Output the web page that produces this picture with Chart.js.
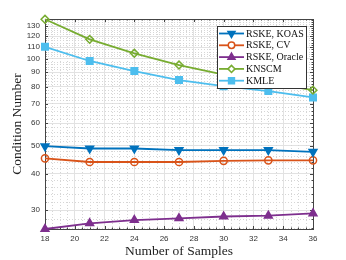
<!DOCTYPE html>
<html><head><meta charset="utf-8">
<script src="https://cdn.jsdelivr.net/npm/chart.js@4/dist/chart.umd.min.js"></script>
<style>html,body{margin:0;padding:0;background:#fff}</style>
</head><body>
<canvas id="c" width="346" height="260"></canvas>
<script>
const samples = [18, 21, 24, 27, 30, 33, 36];
const rskeKoas = [49.9, 49.0, 49.0, 48.4, 48.4, 48.4, 47.7];
const rskeCv = [45.3, 44.0, 44.0, 44.0, 44.4, 44.6, 44.6];
const rskeOracle = [25.8, 27.0, 27.7, 28.1, 28.5, 28.7, 29.2];
const knscm = [137.2, 116.9, 104.6, 95.3, 88.3, 82.8, 78.0];
const kmle = [110.2, 98.4, 90.8, 84.5, 80.5, 77.4, 73.6];
const seriesNames = ['RSKE, KOAS', 'RSKE, CV', 'RSKE, Oracle', 'KNSCM', 'KMLE'];
const xTicks = [18, 20, 22, 24, 26, 28, 30, 32, 34, 36];
const yTicks = [30, 40, 50, 60, 70, 80, 90, 100, 110, 120, 130];

const colors = ['#0072BD', '#D95319', '#7E2F8E', '#77AC30', '#4DBEEE'];
const styles = [
  {pointStyle: 'triangle', rotation: 180, radius: 4.5, fill: true},
  {pointStyle: 'circle', rotation: 0, radius: 3.6, fill: false},
  {pointStyle: 'triangle', rotation: 0, radius: 4.5, fill: true},
  {pointStyle: 'rectRot', rotation: 0, radius: 3.9, fill: false},
  {pointStyle: 'rect', rotation: 0, radius: 4.6, fill: true}
];
const allSeries = [rskeKoas, rskeCv, rskeOracle, knscm, kmle];

const datasets = allSeries.map((vals, i) => ({
  label: seriesNames[i],
  data: samples.map((x, j) => ({x: x, y: vals[j]})),
  borderColor: colors[i],
  backgroundColor: colors[i],
  borderWidth: 1.8,
  pointStyle: styles[i].pointStyle,
  rotation: styles[i].rotation,
  pointRadius: styles[i].radius,
  pointBorderWidth: 1.5,
  pointBorderColor: colors[i],
  pointBackgroundColor: styles[i].fill ? colors[i] : 'rgba(255,255,255,0)',
  clip: false,
  tension: 0
}));

const framePlugin = {
  id: 'frame',
  beforeDatasetsDraw(chart) {
    const {ctx, chartArea: a, scales} = chart;
    const xs = scales.x, ys = scales.y;
    ctx.save();
    ctx.strokeStyle = '#d6d6d6';
    ctx.lineWidth = 1;
    ctx.setLineDash([1, 2]);
    for (let v = 18.5; v < 36; v += 0.5) {
      if (Math.abs(v - Math.round(v / 2) * 2) < 1e-6) continue;
      const px = Math.round(xs.getPixelForValue(v)) + 0.5;
      ctx.beginPath(); ctx.moveTo(px, a.top); ctx.lineTo(px, a.bottom); ctx.stroke();
    }
    for (let v = 26; v <= 136; v += 2) {
      if (v % 10 === 0) continue;
      const py = Math.round(ys.getPixelForValue(v)) + 0.5;
      ctx.beginPath(); ctx.moveTo(a.left, py); ctx.lineTo(a.right, py); ctx.stroke();
    }
    ctx.setLineDash([]);
    ctx.strokeStyle = '#444';
    ctx.lineWidth = 1;
    ctx.strokeRect(Math.round(a.left) + 0.5, Math.round(a.top) + 0.5, Math.round(a.right - a.left), Math.round(a.bottom - a.top));
    ctx.beginPath();
    for (let v = 18; v <= 36.001; v += 0.5) {
      const major = Math.abs(v - Math.round(v / 2) * 2) < 1e-6;
      const L = major ? 3 : 1.5;
      const px = Math.round(xs.getPixelForValue(v)) + 0.5;
      ctx.moveTo(px, a.bottom); ctx.lineTo(px, a.bottom - L);
      ctx.moveTo(px, a.top); ctx.lineTo(px, a.top + L);
    }
    for (let v = 26; v <= 136; v += 2) {
      const major = v % 10 === 0;
      const L = major ? 3 : 1.5;
      const py = Math.round(ys.getPixelForValue(v)) + 0.5;
      ctx.moveTo(a.left, py); ctx.lineTo(a.left + L, py);
      ctx.moveTo(a.right, py); ctx.lineTo(a.right - L, py);
    }
    ctx.stroke();
    ctx.restore();
  },
  afterDatasetsDraw(chart) {
    const {ctx} = chart;
    const bx = 217.5, by = 26.5, bw = 89, bh = 62;
    ctx.save();
    ctx.fillStyle = '#fff';
    ctx.fillRect(bx, by, bw, bh);
    ctx.strokeStyle = '#333';
    ctx.lineWidth = 1;
    ctx.strokeRect(bx, by, bw, bh);
    ctx.font = '10px "Liberation Serif"';
    ctx.textBaseline = 'middle';
    ctx.textAlign = 'left';
    for (let i = 0; i < seriesNames.length; i++) {
      const y = 33.5 + i * 11.8;
      ctx.strokeStyle = colors[i];
      ctx.lineWidth = 1.8;
      ctx.beginPath(); ctx.moveTo(219, y); ctx.lineTo(244, y); ctx.stroke();
      ctx.fillStyle = styles[i].fill ? colors[i] : '#fff';
      ctx.lineWidth = 1.5;
      Chart.helpers.drawPoint(ctx, {pointStyle: styles[i].pointStyle, rotation: styles[i].rotation, radius: styles[i].radius * 0.9, borderWidth: 1.5}, 231.5, y);
      ctx.fillStyle = '#111';
      ctx.fillText(seriesNames[i], 246, y + 0.5);
    }
    ctx.restore();
  }
};

new Chart(document.getElementById('c'), {
  type: 'line',
  data: {datasets},
  options: {
    responsive: false,
    animation: false,
    devicePixelRatio: 1,
    layout: {padding: {left: 0, top: 19, right: 33, bottom: 0}},
    plugins: {legend: {display: false}, tooltip: {enabled: false}},
    scales: {
      x: {
        type: 'linear', min: 18, max: 36,
        afterBuildTicks: s => { s.ticks = xTicks.map(v => ({value: v})); },
        afterFit: s => { s.height = 31; },
        ticks: {callback: v => String(v), font: {family: 'Liberation Sans', size: 8}, color: '#333', padding: 5, maxRotation: 0, autoSkip: false},
        grid: {color: '#e2e2e2', lineWidth: 1, drawTicks: false},
        border: {display: false},
        title: {display: true, text: 'Number of Samples', font: {family: 'Liberation Serif', size: 13.5}, color: '#222', padding: {top: 0, bottom: 0}}
      },
      y: {
        type: 'logarithmic', min: 25.8, max: 137.5,
        afterBuildTicks: s => { s.ticks = yTicks.map(v => ({value: v})); },
        afterFit: s => { s.width = 45; },
        ticks: {callback: v => String(v), font: {family: 'Liberation Sans', size: 8}, color: '#333', padding: 5, autoSkip: false},
        grid: {color: '#e2e2e2', lineWidth: 1, drawTicks: false},
        border: {display: false},
        title: {display: true, text: 'Condition Number', font: {family: 'Liberation Serif', size: 13.5}, color: '#222', padding: {top: 9, bottom: 0}}
      }
    }
  },
  plugins: [framePlugin]
});
</script>
</body></html>
